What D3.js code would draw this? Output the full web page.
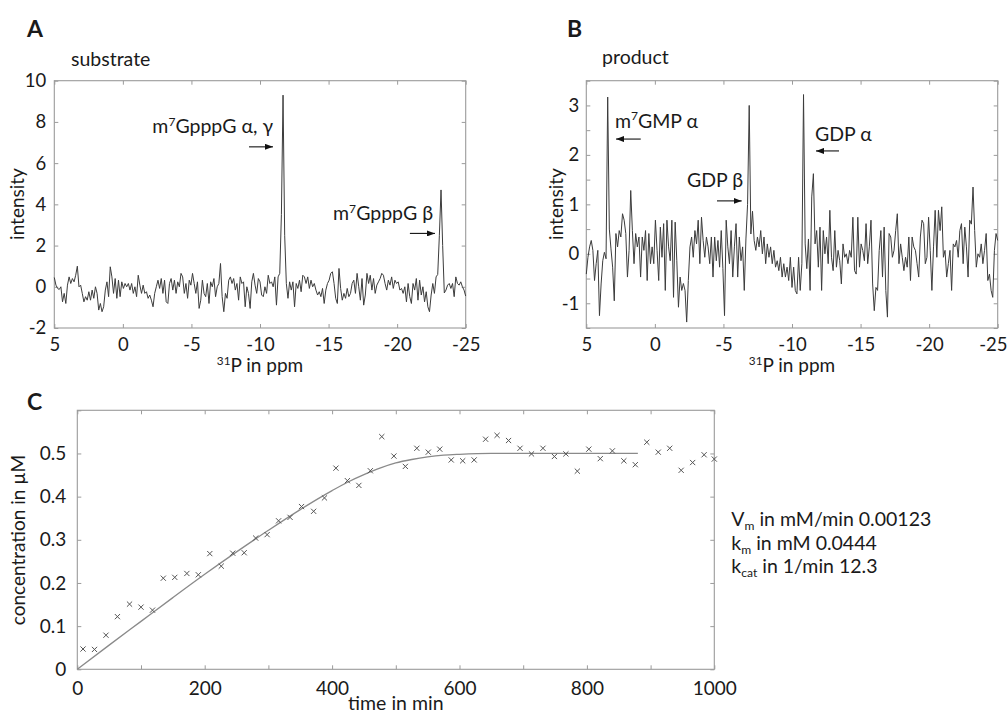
<!DOCTYPE html>
<html lang="en">
<head>
<meta charset="UTF-8">
<title>31P NMR spectra and product kinetics</title>
<script src="https://d3js.org/d3.v7.min.js"></script>
<style>
  body { margin: 0; background: #fff; }
  svg { display: block; font-family: Lato, "Open Sans", sans-serif; }
  .box { fill: none; stroke: #9b9b9b; stroke-width: 1.1px; }
  .axis line { stroke: #9b9b9b; stroke-width: 1px; }
  .axis text { fill: #1a1a1a; }
  .spec { fill: none; stroke: #3c3c3c; stroke-width: 1px; }
  .fit { fill: none; stroke: #8a8a8a; stroke-width: 1.3px; }
  .pt { fill: none; stroke: #555; stroke-width: 1px; }
  .lbl { fill: #1a1a1a; }
  .arrow { stroke: #111; stroke-width: 1.1px; }
</style>
</head>
<body>
<svg width="1008" height="715"></svg>
<script>
// ---- data ----
// spectra sampled on a ppm grid from 5 down to -25, step 0.12 ppm
const ppmStart = 5, ppmStep = -0.12;

const substrate = [
  0.45, 0.08, -0.08, -0.13, 0, -0.73, -0.32, -0.81, 0.08, 0.48,
  0.16, 0.40, 0.24, 0.56, 1.0, 0, 0.08, -0.32, -0.73, -0.48,
  -0.65, -0.24, -0.65, -0.16, -0.56, 0, -0.32, -1.13, -0.81, -1.21,
  -0.97, -0.16, 0.24, -0.48, 0.97, 0.48, -0.32, 0.40, -0.56, 0.32,
  -0.48, 0.24, -0.08, 0.16, 0, 0.16, -0.16, 0.16, -0.32, 0,
  -0.48, 0.56, 0.08, -0.32, 0.08, -0.32, -0.24, -0.56, -0.40, -0.65,
  -0.97, -0.32, 0, 0.32, -0.08, 0.40, -0.32, 0.32, -0.73, -0.81,
  0.16, 0.40, -0.16, 0.32, -0.32, 0.24, 0, 0.65, 0.48, -0.32,
  0.16, -0.56, 0.32, 0.08, 0.65, 0.16, -0.32, 0.24, -1.05, -0.65,
  0.32, -0.32, -0.48, 0.16, -0.81, 0.24, 0, 0.40, -0.48, 0,
  0.16, 1.13, -0.48, -1.21, -0.32, -0.56, 0.32, 0.48, 0.16, 0.40,
  -0.16, 0.16, -0.65, 0.48, 0.16, 0.24, -0.97, 0, -0.32, -1.05,
  0.24, 0.65, 0.08, -0.32, 0.40, 0.24, -0.40, -0.48, 0, -0.32,
  0.56, 0.16, 0.24, 0, 0.48, -0.89, 0.48, 0.65, 3.5, 9.3,
  2.5, 0.16, -0.56, 0.24, -0.16, 0.24, -0.97, 0.16, -0.08, 0.32,
  -0.24, 0.56, 0.48, 0.16, 0.48, -0.08, 0.32, 0, 0.16, -0.16,
  -0.40, -0.24, -0.48, -0.08, -0.81, -0.16, 0.16, 0.32, 0.65, 0.73,
  0.16, -0.56, -0.81, 0.89, -0.08, -0.65, -0.32, -0.56, -0.08, -0.48,
  -0.32, 0.16, 0.32, -0.32, 0.65, 0, -0.65, 0.40, -0.89, -0.40,
  0.65, 0.16, 0.56, -0.16, 0.40, -0.32, 0.08, 0.24, 0.40, 0.65,
  0.56, 0.16, -0.16, 0.32, 0.08, 0.48, -0.08, 0.32, 0.16, 0.24,
  -0.16, -0.08, -0.32, 0, -0.73, 0.16, -0.48, -0.81, 0.16, -0.16,
  0.40, -0.65, 0.32, -0.40, 0, -0.73, -0.24, -0.97, -1.21, -0.40,
  0.16, -0.32, 0.48, 0.6, 2.5, 4.7, 2.0, -0.3, -0.16, 0.08,
  0.16, -0.08, 0.16, -0.48, 0.48, 0.16, 0.08, 0.24, 0, -0.16,
  -0.45
];

const product = [
  -0.41, -0.07, 0.14, 0.27, 0.07, -0.54, -0.20, 0.07, -1.25, -0.61,
  -0.14, 0.03, -0.10, 3.17, 0.50, 0.10, -0.27, -0.95, 0.41, 0.14,
  0.47, 0.34, 0.81, 0.68, 0.41, -0.47, 0.07, 1.28, 0.47, -0.20,
  0.41, 0.14, 0.34, -0.47, 0.34, 0.07, 0.47, -0.54, 0.41, -0.20,
  0.14, -0.20, 0.68, 0.07, -0.54, 0.54, -0.07, 0.61, -0.74, 0.68,
  0.14, -0.14, 0.68, -0.88, 0.64, -0.14, -1.08, -0.47, -0.74, -0.60,
  -0.74, -1.38, -0.54, 0.14, 0.34, -0.07, 0.47, 0.20, 0.68, -0.20,
  0.74, 0.27, -0.07, 0.34, 0.14, -0.20, 0.34, -0.47, 0.34, -0.14,
  0.27, -0.27, 0.47, -0.30, -1.25, 0.68, 0.14, -0.20, 0.47, -0.47,
  0.14, 0.61, -0.47, 0.34, -0.14, 0.14, -0.74, 0.30, 1.00, 3.00,
  0.40, 0.86, 0.27, 0.07, 0.34, 0.14, 0.47, 0.00, 0.34, -0.20,
  0.20, -0.07, 0.14, -0.20, 0.07, -0.27, -0.14, -0.34, -0.07, -0.47,
  -0.20, -0.47, -0.27, -0.54, -0.07, -0.68, -0.27, -0.74, -0.81, -0.07,
  -0.74, -0.20, 3.22, 0.20, -0.30, 0.30, -0.74, 1.15, 1.62, 0.20,
  0.47, -0.27, 0.54, -0.74, 0.47, 0.00, 0.34, -0.20, 0.88, -0.07,
  -0.34, 0.47, -0.27, 0.07, -0.14, -0.61, 0.20, -0.07, 0.00, -0.20,
  0.07, -0.07, 0.74, -0.34, -0.41, 0.74, -0.27, 0.20, 0.07, -0.14,
  0.61, -0.20, 0.14, 0.68, -0.61, -1.15, -0.68, -0.74, 0.07, 0.47,
  -0.47, 0.54, -0.74, -1.28, 0.41, 0.34, -0.07, 0.07, 0.47, 0.81,
  -0.20, 0.20, -0.07, -0.34, -0.07, -0.27, 0.34, -0.54, 0.34, 0.14,
  0.07, -0.20, -0.47, 0.34, 0.68, 0.61, -0.20, -0.07, 0.74, 0.07,
  -0.74, 0.14, 0.88, -0.07, 0.88, 0.47, 0.95, -0.07, 0.07, -0.47,
  -0.20, 0.07, -0.74, 0.20, 0.14, 0.27, -0.07, 0.47, 0.61, -0.20,
  0.54, 0.14, -0.47, 0.68, 0.60, 1.35, 0.47, -0.27, 0.00, -0.07,
  0.20, -0.20, 0.07, 0.41, -0.54, -0.41, -0.74, -0.88, 0.07, 0.41,
  0.27
];

// time course (panel C)
const timeMin = [9, 27, 45, 63, 82, 100, 118, 135, 153, 172,
  190, 208, 226, 244, 262, 280, 298, 316, 334, 352,
  371, 388, 406, 424, 442, 460, 478, 497, 515, 533,
  551, 569, 587, 605, 623, 641, 659, 677, 695, 713,
  731, 749, 767, 785, 803, 821, 840, 858, 876, 894,
  912, 930, 948, 966, 984, 1000];
const concUM = [0.047, 0.046, 0.079, 0.122, 0.151, 0.144, 0.137, 0.211, 0.213, 0.222,
  0.219, 0.268, 0.239, 0.269, 0.270, 0.304, 0.312, 0.344, 0.352, 0.377,
  0.366, 0.397, 0.466, 0.437, 0.426, 0.460, 0.539, 0.494, 0.470, 0.512,
  0.503, 0.510, 0.485, 0.483, 0.485, 0.533, 0.542, 0.530, 0.512, 0.499,
  0.512, 0.493, 0.499, 0.459, 0.510, 0.488, 0.506, 0.483, 0.474, 0.526,
  0.503, 0.512, 0.461, 0.479, 0.497, 0.487];

// fitted curve
const fitTime = [0, 50, 100, 150, 200, 250, 300, 350, 400, 425, 450, 475, 500, 525, 550, 575, 600, 650, 700, 880];
const fitConc = [0, 0.056, 0.111, 0.166, 0.220, 0.272, 0.322, 0.370, 0.414, 0.434, 0.451, 0.466, 0.478, 0.486, 0.492, 0.496, 0.498, 0.500, 0.500, 0.500];

// ticks
const ppmTicks = [5, 0, -5, -10, -15, -20, -25];
const subTicks = [-2, 0, 2, 4, 6, 8, 10];
const prodTicks = [-1.5, -1, -0.5, 0, 0.5, 1, 1.5, 2, 2.5, 3, 3.5];
const prodLabels = [-1, 0, 1, 2, 3];
const timeTicks = [0, 100, 200, 300, 400, 500, 600, 700, 800, 900, 1000];
const timeLabels = [0, 200, 400, 600, 800, 1000];
const concTicks = [0, 0.1, 0.2, 0.3, 0.4, 0.5, 0.6];
const concLabels = [0, 0.1, 0.2, 0.3, 0.4, 0.5];

const kinetics = [
  [["V"], ["m", "sub"], [" in mM/min 0.00123"]],
  [["k"], ["m", "sub"], [" in mM 0.0444"]],
  [["k"], ["cat", "sub"], [" in 1/min 12.3"]]
];

const svg = d3.select("svg");

svg.append("defs").append("marker")
  .attr("id", "head")
  .attr("viewBox", "0 0 8 6")
  .attr("refX", 8).attr("refY", 3)
  .attr("markerWidth", 8).attr("markerHeight", 6)
  .attr("markerUnits", "userSpaceOnUse")
  .attr("orient", "auto")
  .append("path").attr("d", "M0,0L8,3L0,6z").attr("fill", "#111");

// text with sub/superscript pieces
function rich(g, x, y, parts, size, anchor) {
  const t = g.append("text").attr("class", "lbl")
    .attr("x", x).attr("y", y)
    .attr("font-size", size)
    .attr("text-anchor", anchor || "start");
  let shift = 0;
  parts.forEach(([s, kind]) => {
    const sp = t.append("tspan").text(s);
    let want = 0;
    if (kind === "sup") { want = -size * 0.38; sp.attr("font-size", size * 0.62); }
    if (kind === "sub") { want = size * 0.22; sp.attr("font-size", size * 0.62); }
    sp.attr("dy", want - shift);
    shift = want;
  });
  return t;
}

function frame(x, y, o) {
  const g = svg.append("g");
  const [x0, x1] = x.range();
  const [y0, y1] = y.range();

  g.append("g").attr("class", "axis").attr("transform", `translate(0,${y0})`)
    .call(d3.axisBottom(x).tickValues(o.xTicks).tickSizeInner(-4).tickSizeOuter(0)
      .tickPadding(o.padX).tickFormat(d => o.xLabels.includes(d) ? String(d) : ""));
  g.append("g").attr("class", "axis").attr("transform", `translate(0,${y1})`)
    .call(d3.axisTop(x).tickValues(o.xTicks).tickSizeInner(-4).tickSizeOuter(0).tickFormat(""));
  g.append("g").attr("class", "axis").attr("transform", `translate(${x0},0)`)
    .call(d3.axisLeft(y).tickValues(o.yTicks).tickSizeInner(-4).tickSizeOuter(0)
      .tickPadding(o.padY).tickFormat(d => o.yLabels.includes(d) ? String(d) : ""));
  g.append("g").attr("class", "axis").attr("transform", `translate(${x1},0)`)
    .call(d3.axisRight(y).tickValues(o.yTicks).tickSizeInner(-4).tickSizeOuter(0).tickFormat(""));

  g.selectAll(".domain").remove();
  g.selectAll(".axis").attr("font-family", null).attr("font-size", o.fontSize);

  g.append("rect").attr("class", "box")
    .attr("x", x0).attr("y", y1)
    .attr("width", x1 - x0).attr("height", y0 - y1);
  return g;
}

function arrow(x, y, from, to, at) {
  svg.append("line").attr("class", "arrow")
    .attr("x1", x(from)).attr("x2", x(to))
    .attr("y1", y(at)).attr("y2", y(at))
    .attr("marker-end", "url(#head)");
}

const TXT = 19.5;

// ---------- panel A ----------
const xA = d3.scaleLinear().domain([5, -25]).range([54.3, 465.7]);
const yA = d3.scaleLinear().domain([-2, 10]).range([328, 80.7]);
frame(xA, yA, { xTicks: ppmTicks, xLabels: ppmTicks, yTicks: subTicks, yLabels: subTicks,
  padX: 10, padY: 8, fontSize: 18.5 });

const specLine = (x, y) => d3.line()
  .x((d, i) => x(ppmStart + i * ppmStep))
  .y(d => y(d));

svg.append("path").datum(substrate).attr("class", "spec").attr("d", specLine(xA, yA));

rich(svg, xA(-10.95), yA(7.46), [["m"], ["7", "sup"], ["GpppG α, γ"]], TXT, "end");
arrow(xA, yA, -9.2, -10.95, 6.79);
rich(svg, xA(-22.62), yA(3.24), [["m"], ["7", "sup"], ["GpppG β"]], TXT, "end");
arrow(xA, yA, -20.93, -22.76, 2.59);

// ---------- panel B ----------
const xB = d3.scaleLinear().domain([5, -25]).range([586.3, 997.7]);
const yB = d3.scaleLinear().domain([-1.5, 3.5]).range([328, 80.7]);
const gB = frame(xB, yB, { xTicks: ppmTicks, xLabels: ppmTicks, yTicks: prodTicks, yLabels: prodLabels,
  padX: 10, padY: 7, fontSize: 18.5 });
// keep the last ppm label inside the page
gB.selectAll(".tick text").filter(d => d === -25)
  .attr("text-anchor", "end").attr("x", 1007 - xB(-25));

svg.append("path").datum(product).attr("class", "spec").attr("d", specLine(xB, yB));

rich(svg, xB(2.91), yB(2.55), [["m"], ["7", "sup"], ["GMP α"]], TXT);
arrow(xB, yB, 1.03, 2.83, 2.32);
rich(svg, xB(-2.34), yB(1.35), [["GDP β"]], TXT);
arrow(xB, yB, -4.53, -6.33, 1.07);
rich(svg, xB(-11.68), yB(2.29), [["GDP α"]], TXT);
arrow(xB, yB, -13.43, -11.75, 2.08);

// ---------- panel C ----------
const xC = d3.scaleLinear().domain([0, 1000]).range([77.3, 714.3]);
const yC = d3.scaleLinear().domain([0, 0.6]).range([669.3, 410.3]);
frame(xC, yC, { xTicks: timeTicks, xLabels: timeLabels, yTicks: concTicks, yLabels: concLabels,
  padX: 12, padY: 11, fontSize: 19 });

svg.append("path")
  .datum(fitTime.map((t, i) => [t, fitConc[i]]))
  .attr("class", "fit")
  .attr("d", d3.line().x(d => xC(d[0])).y(d => yC(d[1])).curve(d3.curveMonotoneX));

svg.append("g").selectAll("path")
  .data(timeMin.map((t, i) => [t, concUM[i]]))
  .join("path")
  .attr("class", "pt")
  .attr("transform", d => `translate(${xC(d[0])},${yC(d[1])})`)
  .attr("d", "M-2.6,-2.6L2.6,2.6M-2.6,2.6L2.6,-2.6");

kinetics.forEach((parts, i) => {
  rich(svg, xC.range()[1] + 17, 526 + i * 23.5, parts, TXT);
});

// ---------- titles and labels ----------
svg.append("text").attr("class", "lbl").attr("x", 27).attr("y", 37)
  .attr("font-size", 23).attr("font-weight", "bold").text("A");
svg.append("text").attr("class", "lbl").attr("x", 567).attr("y", 37)
  .attr("font-size", 23).attr("font-weight", "bold").text("B");
svg.append("text").attr("class", "lbl").attr("x", 27).attr("y", 410)
  .attr("font-size", 23).attr("font-weight", "bold").text("C");

svg.append("text").attr("class", "lbl").attr("x", 71).attr("y", 66)
  .attr("font-size", TXT).text("substrate");
svg.append("text").attr("class", "lbl").attr("x", 602).attr("y", 64)
  .attr("font-size", TXT).text("product");

[[24, 204, "intensity"], [562.5, 204, "intensity"], [24.5, 540, "concentration in µM"]]
  .forEach(([cx, cy, s]) => {
    svg.append("text").attr("class", "lbl")
      .attr("transform", `translate(${cx},${cy}) rotate(-90)`)
      .attr("text-anchor", "middle").attr("font-size", 19).text(s);
  });

[xA, xB].forEach(x => {
  const mid = (x.range()[0] + x.range()[1]) / 2;
  rich(svg, mid, 372, [["31", "sup"], ["P in ppm"]], 19, "middle");
});
svg.append("text").attr("class", "lbl")
  .attr("x", (xC.range()[0] + xC.range()[1]) / 2).attr("y", 710)
  .attr("text-anchor", "middle").attr("font-size", 19.5).text("time in min");
</script>
</body>
</html>
